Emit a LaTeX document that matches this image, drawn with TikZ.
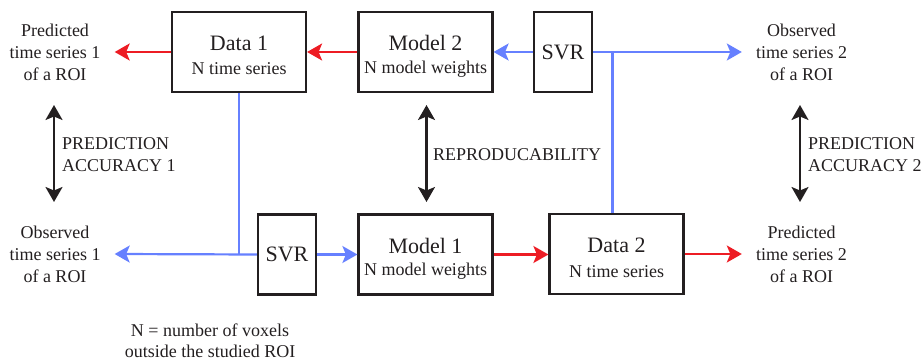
\documentclass[tikz,border=0pt]{standalone}
\usepackage{fontspec}
\setmainfont{Liberation Serif}
\usetikzlibrary{arrows.meta,calc}
\definecolor{ink}{RGB}{35,31,32}
\definecolor{rd}{RGB}{237,28,36}
\definecolor{bl}{RGB}{102,128,255}
\begin{document}
\begin{tikzpicture}[x=1pt,y=-1pt,
 box/.style={draw=ink,line width=2.2pt,minimum width=134pt,minimum height=80pt,inner sep=0pt},
 svrbox/.style={box,minimum width=58pt,font=\fontsize{22}{24}\selectfont,text=ink},
 ttl/.style={font=\fontsize{22}{24}\selectfont,text=ink,anchor=base,inner sep=0pt},
 sub/.style={font=\fontsize{18}{20}\selectfont,text=ink,anchor=base,inner sep=0pt},
 lbl/.style={font=\fontsize{18}{22}\selectfont,text=ink,align=center,inner xsep=14pt,inner ysep=0pt},
 capt/.style={font=\fontsize{18}{22}\selectfont,text=ink,align=left,anchor=west,inner sep=0pt},
 tipr/.style={-{Stealth[length=15pt,width=17pt,inset=3.5pt]}},
 rarr/.style={tipr,draw=rd,line width=2.2pt},
 barr/.style={tipr,draw=bl,line width=2.2pt},
 bline/.style={draw=bl,line width=2.2pt},
 darr/.style={{Stealth[length=15pt,width=17pt,inset=3.5pt]}-{Stealth[length=15pt,width=17pt,inset=3.5pt]},draw=ink,line width=2.2pt}
]
\useasboundingbox (0,0) rectangle (923,363);

% boxes
\node[box] (data1) at (239,52) {};
\node[ttl] (data1t) at ($(data1.center)+(0,-1.3)$) {Data 1};
\node[sub] (data1s) at ($(data1.center)+(0,23)$) {N time series};

\node[box] (model2) at (425.5,52) {};
\node[ttl] (model2t) at ($(model2.center)+(0,-1.3)$) {Model 2};
\node[sub] (model2s) at ($(model2.center)+(0,21.5)$) {N model weights};

\node[svrbox] (svrT) at (563,52) {SVR};

\node[svrbox] (svrB) at (287,254.5) {SVR};

\node[box] (model1) at (425.5,254.5) {};
\node[ttl] (model1t) at ($(model1.center)+(0,-1.3)$) {Model 1};
\node[sub] (model1s) at ($(model1.center)+(0,21.5)$) {N model weights};

\node[box] (data2) at (616.5,254) {};
\node[ttl] (data2t) at ($(data2.center)+(0,-1.3)$) {Data 2};
\node[sub] (data2s) at ($(data2.center)+(0,23)$) {N time series};

% side labels
\node[lbl] (pred1) at (55,52) {Predicted\\time series 1\\of a ROI};
\node[lbl] (obs1) at (55,254) {Observed\\time series 1\\of a ROI};
\node[lbl] (obs2) at (801.5,52) {Observed\\time series 2\\of a ROI};
\node[lbl] (pred2) at (801.5,254) {Predicted\\time series 2\\of a ROI};

% captions
\node[capt] (acc1) at (62,154.5) {PREDICTION\\ACCURACY 1};
\node[capt] (repro) at (433,154.5) {REPRODUCABILITY};
\node[capt] (acc2) at (808,154.5) {PREDICTION\\ACCURACY 2};
\node[font=\fontsize{18}{21}\selectfont,text=ink,align=center,inner sep=0pt] (note) at (210,341) {N = number of voxels\\outside the studied ROI};

% double arrows
\coordinate (a1t) at (54,105); \coordinate (a1b) at (54,202);
\coordinate (a2t) at (426.5,105); \coordinate (a2b) at (426.5,202);
\coordinate (a3t) at (800,105); \coordinate (a3b) at (800,202);
\draw[darr] (a1t) -- (a1b);
\draw[darr] (a2t) -- (a2b);
\draw[darr] (a3t) -- (a3b);

% red connectors
\draw[rarr] (data1.west) -- (pred1.east);
\draw[rarr] (model2.west) -- (data1.east);
\draw[rarr] (model1.east) -- (data2.west |- model1.east);
\draw[rarr] (data2.east) -- (pred2.west);

% blue connectors
\draw[barr] (svrT.west) -- (model2.east);
\draw[barr] (svrT.east) -- (obs2.west);
\coordinate (jT) at (612.5,52);
\draw[bline] (jT) -- (jT |- data2.north);
\draw[barr] (svrB.west) -- (obs1.east);
\draw[bline] (data1.south) -- (data1.south |- svrB.west);
\draw[barr] (svrB.east) -- (model1.west);
\end{tikzpicture}
\end{document}
